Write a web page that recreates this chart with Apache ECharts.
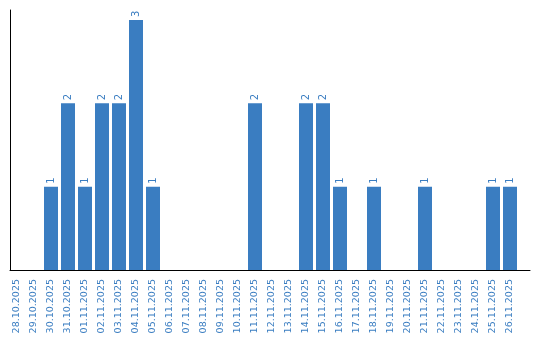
<!DOCTYPE html>
<html><head><meta charset="utf-8">
<script src="https://cdn.jsdelivr.net/npm/echarts@6/dist/echarts.min.js"></script>
<style>html,body{margin:0;padding:0;background:#fff}#c{width:540px;height:340px}</style>
</head><body><div id="c"></div>
<script>
var categories = ['28.10.2025','29.10.2025','30.10.2025','31.10.2025','01.11.2025','02.11.2025','03.11.2025','04.11.2025','05.11.2025','06.11.2025','07.11.2025','08.11.2025','09.11.2025','10.11.2025','11.11.2025','12.11.2025','13.11.2025','14.11.2025','15.11.2025','16.11.2025','17.11.2025','18.11.2025','19.11.2025','20.11.2025','21.11.2025','22.11.2025','23.11.2025','24.11.2025','25.11.2025','26.11.2025'];
var values = [0,0,1,2,1,2,2,3,1,0,0,0,0,0,2,0,0,2,2,1,0,1,0,0,1,0,0,0,1,1];
var blue = '#3a7dc1';
var chart = echarts.init(document.getElementById('c'));
chart.setOption({
  animation: false,
  grid: [
    {left: 8.5, width: 510, top: 20, bottom: 70},
    {left: 10, right: 10, top: 10, bottom: 70}
  ],
  xAxis: [
    {type: 'category', data: categories, gridIndex: 0,
     axisLine: {show: false}, axisTick: {show: false},
     axisLabel: {rotate: 90, color: blue, fontFamily: 'DejaVu Sans', fontSize: 9.5, margin: 9, interval: 0}},
    {type: 'value', gridIndex: 1, min: 0, max: 1,
     axisLine: {show: true, lineStyle: {color: '#000', width: 1}},
     axisTick: {show: false}, axisLabel: {show: false}, splitLine: {show: false}}
  ],
  yAxis: [
    {type: 'value', gridIndex: 0, min: 0, max: 3,
     axisLine: {show: false}, axisTick: {show: false}, axisLabel: {show: false}, splitLine: {show: false}},
    {type: 'value', gridIndex: 1, min: 0, max: 1,
     axisLine: {show: true, lineStyle: {color: '#000', width: 1}},
     axisTick: {show: false}, axisLabel: {show: false}, splitLine: {show: false}}
  ],
  series: [{
    type: 'bar', xAxisIndex: 0, yAxisIndex: 0,
    data: values.map(function(v){ return v === 0 ? {value: v, label: {show: false}} : v; }),
    barWidth: 14,
    itemStyle: {color: blue},
    label: {show: true, position: 'top', rotate: 90, align: 'left', verticalAlign: 'middle',
            distance: 3, color: blue, fontFamily: 'DejaVu Sans', fontSize: 10}
  }]
});
</script></body></html>
